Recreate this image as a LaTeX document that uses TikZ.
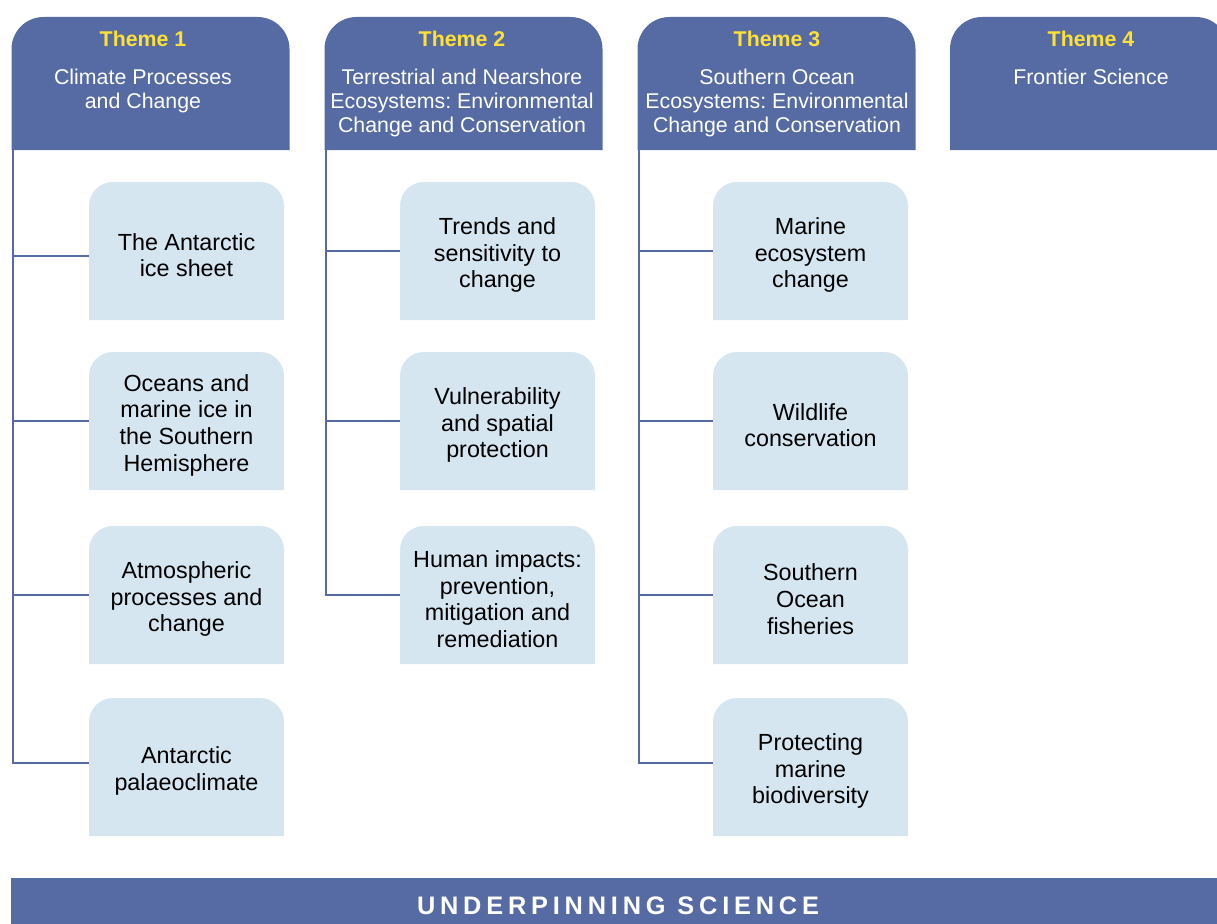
\documentclass[tikz,border=0pt]{standalone}
\usepackage{fontspec}
\setmainfont{Liberation Sans}
\newfontfamily\barfont[LetterSpace=19]{Liberation Sans}
\usepackage{tikz}
\usetikzlibrary{backgrounds}
\usepackage{xcolor}
\definecolor{themeblue}{HTML}{566BA3}
\definecolor{topicblue}{HTML}{D6E6F0}
\definecolor{themeyellow}{HTML}{FFE135}
\frenchspacing
\tikzset{x=0.75pt, y=-0.75pt,
  head/.style={minimum width=208.5pt, minimum height=99.75pt, inner sep=0, outer sep=0, anchor=north},
  themelabel/.style={text=themeyellow, inner sep=0, font=\fontsize{16}{18}\selectfont\bfseries},
  themetitle/.style={text=white, align=center, inner sep=0, anchor=north, font=\fontsize{16}{18}\selectfont},
  topic/.style={minimum width=146.25pt, minimum height=103.5pt, inner sep=0, outer sep=0},
  topictext/.style={yshift=-3pt, inner sep=0, align=center, font=\fontsize{17.5}{20}\selectfont},
  branch/.style={draw=themeblue, line width=1.5pt},
  underbar/.style={fill=themeblue, minimum width=910.5pt, minimum height=42pt, inner sep=0, text=white, font=\barfont\fontsize{19}{21}\selectfont\bfseries}
}
\newcommand{\topicbox}[2]{node[topic, label={[topictext]center:{#2}}](#1) {}}
% tab shape: round top corners, square bottom
\newcommand{\tabfill}[3]{\fill[#2, rounded corners=#3] (#1.south west) -- (#1.north west) -- (#1.north east) -- (#1.south east)}

\begin{document}
\begin{tikzpicture}
\useasboundingbox (0,0) rectangle (1217,924);
\clip (0,0) rectangle (1217,924);

% theme headers
\draw (150.5,17) node[head](hd1) {};
\draw (463.5,17) node[head](hd2) {};
\draw (776.5,17) node[head](hd3) {};
\draw (1089,17) node[head](hd4) {};
\draw (143,39) node[themelabel](lab1) {Theme 1};
\draw (462,39) node[themelabel](lab2) {Theme 2};
\draw (777,39) node[themelabel](lab3) {Theme 3};
\draw (1091,39) node[themelabel](lab4) {Theme 4};
\draw (143,69) node[themetitle](tit1) {Climate Processes\\and Change};
\draw (462,69) node[themetitle](tit2) {Terrestrial and Nearshore\\Ecosystems: Environmental\\Change and Conservation};
\draw (777,69) node[themetitle](tit3) {Southern Ocean\\Ecosystems: Environmental\\Change and Conservation};
\draw (1091,69) node[themetitle](tit4) {Frontier Science};

% topics, theme 1
\draw (186.5,251) \topicbox{t11}{The Antarctic\\ice sheet};
\draw (186.5,421) \topicbox{t12}{Oceans and\\marine ice in\\the Southern\\Hemisphere};
\draw (186.5,595) \topicbox{t13}{Atmospheric\\processes and\\change};
\draw (186.5,767) \topicbox{t14}{Antarctic\\palaeoclimate};
% topics, theme 2
\draw (497.5,251) \topicbox{t21}{Trends and\\sensitivity to\\change};
\draw (497.5,421) \topicbox{t22}{Vulnerability\\and spatial\\protection};
\draw (497.5,595) \topicbox{t23}{Human impacts:\\prevention,\\mitigation and\\remediation};
% topics, theme 3
\draw (810.5,251) \topicbox{t31}{Marine\\ecosystem\\change};
\draw (810.5,421) \topicbox{t32}{Wildlife\\conservation};
\draw (810.5,595) \topicbox{t33}{Southern\\Ocean\\fisheries};
\draw (810.5,767) \topicbox{t34}{Protecting\\marine\\biodiversity};

\begin{scope}[on background layer]
\foreach \h in {hd1,hd2,hd3,hd4}
  \tabfill{\h}{themeblue}{24pt};
\foreach \t in {t11,t12,t13,t14,t21,t22,t23,t31,t32,t33,t34}
  \tabfill{\t}{topicblue}{18pt};
\end{scope}

% trunks and branches
\draw[branch] ([xshift=1pt]hd1.south west) |- ([yshift=3pt]t14.west);
\draw[branch] ([xshift=1pt]hd1.south west |- t11.west) ++(0,-3.5pt) -- ([yshift=-3.5pt]t11.west);
\draw[branch] ([xshift=1pt]hd1.south west |- t12.west) -- (t12.west);
\draw[branch] ([xshift=1pt]hd1.south west |- t13.west) -- (t13.west);
\draw[branch] ([xshift=1pt]hd2.south west) |- (t23.west);
\draw[branch] ([xshift=1pt]hd2.south west |- t21.west) -- (t21.west);
\draw[branch] ([xshift=1pt]hd2.south west |- t22.west) -- (t22.west);
\draw[branch] ([xshift=1pt]hd3.south west) |- ([yshift=3pt]t34.west);
\draw[branch] ([xshift=1pt]hd3.south west |- t31.west) -- (t31.west);
\draw[branch] ([xshift=1pt]hd3.south west |- t32.west) -- (t32.west);
\draw[branch] ([xshift=1pt]hd3.south west |- t33.west) -- (t33.west);

\draw (618,906) node[underbar](under) {UNDERPINNING SCIENCE};
\end{tikzpicture}
\end{document}
